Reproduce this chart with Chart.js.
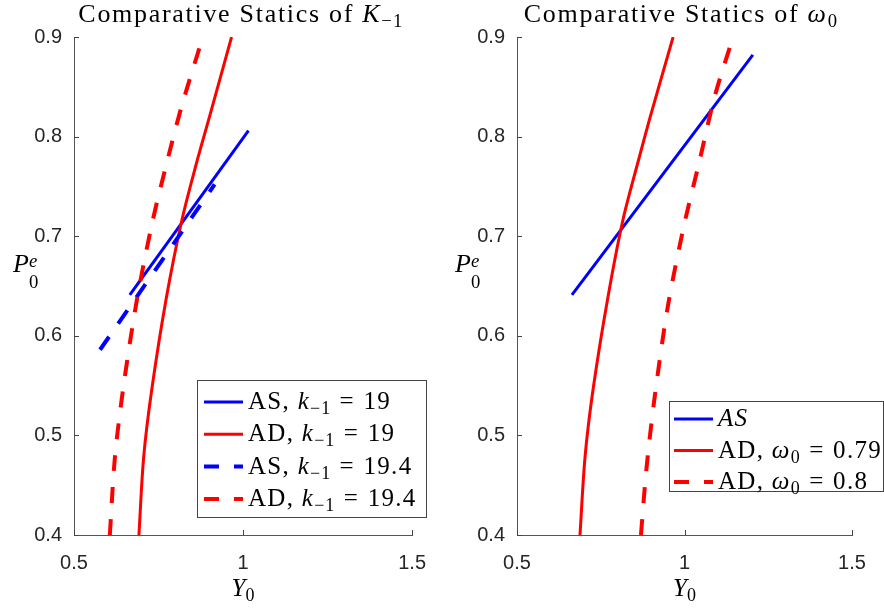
<!DOCTYPE html>
<html>
<head>
<meta charset="utf-8">
<script src="https://cdn.jsdelivr.net/npm/chart.js@4.4.1/dist/chart.umd.min.js"></script>
<style>
  html, body { margin: 0; padding: 0; background: #fff; }
  #wrap { position: relative; width: 884px; height: 609px; }
  canvas { position: absolute; top: 0; }
  #left { left: 0; }
  #right { left: 442px; }
</style>
</head>
<body>
<div id="wrap">
  <canvas id="left" width="442" height="609"></canvas>
  <canvas id="right" width="442" height="609"></canvas>
</div>
<script>
// values
const xTicks = [0.5, 1, 1.5];
const yTicks = [0.4, 0.5, 0.6, 0.7, 0.8, 0.9];

// left panel, K_{-1}
const asK19Y = [0.665, 1.016];
const asK19P = [0.641, 0.806];
const adK19Y = [0.692, 0.706, 0.730, 0.772, 0.819, 0.862, 0.900, 0.966];
const adK19P = [0.400, 0.478, 0.546, 0.636, 0.716, 0.773, 0.819, 0.900];
const asK194Y = [0.577, 0.916];
const asK194P = [0.586, 0.752];
const adK194Y = [0.606, 0.621, 0.645, 0.686, 0.733, 0.777, 0.818, 0.881];
const adK194P = [0.400, 0.478, 0.546, 0.636, 0.716, 0.777, 0.830, 0.900];

// right panel, omega_0
const asY = [0.664, 1.204];
const asP = [0.641, 0.882];
const adW079Y = [0.688, 0.703, 0.727, 0.770, 0.816, 0.860, 0.897, 0.966];
const adW079P = [0.400, 0.478, 0.546, 0.636, 0.716, 0.773, 0.819, 0.900];
const adW08Y = [0.870, 0.886, 0.910, 0.950, 1.000, 1.043, 1.090, 1.145];
const adW08P = [0.400, 0.465, 0.536, 0.629, 0.713, 0.773, 0.840, 0.900];

const leftLabels = ['AS, $k_{-1} = 19$', 'AD, $k_{-1} = 19$', 'AS, $k_{-1} = 19.4$', 'AD, $k_{-1} = 19.4$'];
const rightLabels = ['$AS$', 'AD, $\\omega_0 = 0.79$', 'AD, $\\omega_0 = 0.8$'];
const titles = ['Comparative Statics of $K_{-1}$', 'Comparative Statics of $\\omega_0$'];
const xLabel = '$Y_0$';
const yLabel = '$P_0^e$';

const SERIF = '"Liberation Serif", "Times New Roman", serif';
const SANS = '"Liberation Sans", Arial, sans-serif';
const BLUE = '#0000ff', RED = '#ff0000';

function pts(xs, ys) { return xs.map((x, i) => ({ x: x, y: ys[i] })); }

// tiny latex-ish text: $..$ math, letters italic, _ and ^ scripts
function parseTex(src) {
  const els = [];
  let math = false;
  for (let i = 0; i < src.length; i++) {
    let c = src[i];
    if (c === '$') { math = !math; continue; }
    if (!math) { els.push({ t: c, it: false }); continue; }
    if (c === ' ') continue;
    if (c === '_' || c === '^') {
      let body;
      if (src[i + 1] === '{') { const j = src.indexOf('}', i); body = src.slice(i + 2, j); i = j; }
      else { body = src[i + 1]; i++; }
      const g = { script: c === '_' ? -1 : 1, atoms: parseTex('$' + body + '$') };
      const prev = els[els.length - 1];
      if (prev && prev.script && prev.script !== g.script) { prev.both = g.both = true; g.stack = true; }
      els.push(g);
      continue;
    }
    if (src.startsWith('\\omega', i)) { els.push({ t: '\u03c9', it: true }); i += 5; continue; }
    if (c === '=') { els.push({ t: '=', it: false, gap: 0.34 }); continue; }
    if (c === '-') c = '\u2212';
    els.push({ t: c, it: /[A-Za-z]/.test(c) });
  }
  return els;
}

function drawTex(ctx, src, x, y, size, align, ls) {
  const els = parseTex(src);
  const placed = [];
  let pen = 0, groupX = 0;
  const put = (a, fs, px, dy) => {
    ctx.font = (a.it ? 'italic ' : '') + fs + 'px ' + SERIF;
    const pad = (a.gap || 0) * fs;
    const w = ctx.measureText(a.t).width;
    placed.push({ t: a.t, font: ctx.font, x: px + pad, dy: dy });
    return w + 2 * pad + (ls || 0) * fs / size;
  };
  for (const e of els) {
    if (e.script) {
      const fs = size * 0.72;
      const dy = e.script < 0 ? (e.both ? 0.6 : 0.2) * size : -(e.both ? 0.2 : 0.38) * size;
      const start = e.stack ? groupX : pen;
      let w = 0;
      for (const a of e.atoms) w += put(a, fs, start + w, dy);
      if (e.stack) pen = Math.max(pen, start + w);
      else { groupX = start; pen = start + w; }
    } else {
      pen += put(e, size, pen, 0);
    }
  }
  const x0 = align === 'center' ? x - pen / 2 : x;
  ctx.save();
  ctx.fillStyle = '#000';
  ctx.textAlign = 'left';
  ctx.textBaseline = 'alphabetic';
  for (const p of placed) { ctx.font = p.font; ctx.fillText(p.t, x0 + p.x, y + p.dy); }
  ctx.restore();
}

// titles, axis labels, legend box and inward ticks like matlab
const decor = {
  id: 'decor',
  afterDraw(chart, args, o) {
    const ctx = chart.ctx;
    const xs = chart.scales.x, ys = chart.scales.y, a = chart.chartArea;

    ctx.save();
    ctx.strokeStyle = '#444';
    ctx.lineWidth = 1;
    ctx.beginPath();
    xs.ticks.forEach(t => {
      const px = Math.round(xs.getPixelForValue(t.value)) + 0.5;
      ctx.moveTo(px, a.bottom); ctx.lineTo(px, a.bottom - 5);
    });
    ys.ticks.forEach(t => {
      const py = Math.round(ys.getPixelForValue(t.value)) + 0.5;
      ctx.moveTo(a.left, py); ctx.lineTo(a.left + 5, py);
    });
    ctx.stroke();
    ctx.restore();

    drawTex(ctx, o.title, o.titleX, 22, 26, 'center', 1.7);
    drawTex(ctx, xLabel, (a.left + a.right) / 2, 596, 25, 'center', 0);
    drawTex(ctx, yLabel, o.yLabelX, 272, 26, 'left', 0);

    // legend
    const b = o.legend;
    ctx.save();
    ctx.fillStyle = '#fff';
    ctx.fillRect(b.x, b.y, b.w, b.h);
    ctx.strokeStyle = '#444';
    ctx.lineWidth = 1;
    ctx.strokeRect(b.x + 0.5, b.y + 0.5, b.w - 1, b.h - 1);
    chart.data.datasets.forEach((ds, i) => {
      const base = b.y + b.first + i * b.step;
      const ly = base - 7;
      ctx.save();
      ctx.strokeStyle = ds.borderColor;
      ctx.lineWidth = ds.borderWidth;
      ctx.setLineDash(ds.borderDash.length ? [15, 15] : []);
      ctx.beginPath();
      ctx.moveTo(b.x + b.sx, ly); ctx.lineTo(b.x + b.sx + 39, ly);
      ctx.stroke();
      ctx.restore();
      drawTex(ctx, ds.label, b.x + b.tx, base, 25, 'left', 1.3);
    });
    ctx.restore();
  }
};

function makePanel(id, series, opt) {
  return new Chart(document.getElementById(id), {
    type: 'scatter',
    data: {
      datasets: series.map((s, i) => ({
        label: s.label,
        data: pts(s.xs, s.ys),
        showLine: true,
        borderColor: s.color,
        backgroundColor: s.color,
        borderWidth: s.dash ? 4 : 3,
        borderDash: s.dash ? [16, 16] : [],
        pointRadius: 0,
        tension: 0.3,
        order: -i
      }))
    },
    options: {
      responsive: false,
      devicePixelRatio: 1,
      animation: false,
      layout: { padding: { left: 0, right: opt.padRight, top: 37, bottom: 0 } },
      plugins: {
        legend: { display: false },
        tooltip: { enabled: false },
        title: { display: false },
        decor: opt.decor
      },
      scales: {
        x: {
          type: 'linear', min: 0.5, max: 1.5,
          afterBuildTicks: s => { s.ticks = xTicks.map(v => ({ value: v })); },
          afterFit: s => { s.height = 74; },
          ticks: { callback: v => String(v), font: { family: SANS, size: 20 }, color: '#262626', padding: 16, maxRotation: 0, autoSkip: false },
          grid: { drawOnChartArea: false, drawTicks: false },
          border: { display: true, color: '#555', width: 1 }
        },
        y: {
          type: 'linear', min: 0.4, max: 0.9,
          afterBuildTicks: s => { s.ticks = yTicks.map(v => ({ value: v })); },
          afterFit: s => { s.width = opt.yWidth; },
          ticks: { callback: v => String(v), font: { family: SANS, size: 20 }, color: '#262626', padding: 12, autoSkip: false },
          grid: { drawOnChartArea: false, drawTicks: false },
          border: { display: true, color: '#555', width: 1 }
        }
      }
    },
    plugins: [decor]
  });
}

makePanel('left', [
  { label: leftLabels[0], xs: asK19Y, ys: asK19P, color: BLUE, dash: false },
  { label: leftLabels[1], xs: adK19Y, ys: adK19P, color: RED, dash: false },
  { label: leftLabels[2], xs: asK194Y, ys: asK194P, color: BLUE, dash: true },
  { label: leftLabels[3], xs: adK194Y, ys: adK194P, color: RED, dash: true }
], {
  padRight: 29, yWidth: 74,
  decor: {
    title: titles[0], titleX: 241, yLabelX: 13,
    legend: { x: 197, y: 380, w: 230, h: 138, first: 29, step: 32.3, sx: 7, tx: 51 }
  }
});

makePanel('right', [
  { label: rightLabels[0], xs: asY, ys: asP, color: BLUE, dash: false },
  { label: rightLabels[1], xs: adW079Y, ys: adW079P, color: RED, dash: false },
  { label: rightLabels[2], xs: adW08Y, ys: adW08P, color: RED, dash: true }
], {
  padRight: 32, yWidth: 75,
  decor: {
    title: titles[1], titleX: 239, yLabelX: 13,
    legend: { x: 227, y: 401, w: 215, h: 91, first: 25, step: 31.5, sx: 5, tx: 49 }
  }
});
</script>
</body>
</html>
